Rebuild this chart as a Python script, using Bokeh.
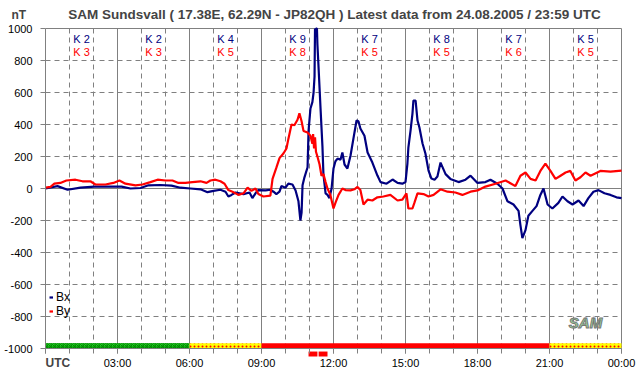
from bokeh.plotting import figure
from bokeh.models import (Range1d, FixedTicker, Grid, Label, Legend, LegendItem,
                          ColumnDataSource)
from bokeh.core.properties import value
from bokeh.embed import file_html
from bokeh.resources import INLINE

# ---------------- data ----------------
bx_hours = [0.0, 0.5, 0.92, 1.46, 2.04, 2.71, 3.17, 3.54, 3.96, 4.29, 4.79, 5.25, 5.62, 6.04, 6.46,
            6.75, 7.0, 7.29, 7.5, 7.62, 7.75, 7.92, 8.25, 8.5, 8.62, 8.75, 8.87, 9.17, 9.37, 9.5,
            9.62, 9.75, 9.83, 10.0, 10.12, 10.29, 10.42, 10.54, 10.62, 10.67, 10.71, 10.79, 10.92,
            10.96, 11.04, 11.12, 11.17, 11.21, 11.23, 11.25, 11.27, 11.29, 11.31, 11.33, 11.37,
            11.46, 11.54, 11.58, 11.67, 11.75, 11.83, 11.92, 12.0, 12.08, 12.17, 12.29, 12.37,
            12.46, 12.58, 12.71, 12.83, 12.96, 13.04, 13.12, 13.29, 13.42, 13.62, 13.83, 13.96,
            14.21, 14.46, 14.67, 14.87, 15.0, 15.08, 15.12, 15.21, 15.29, 15.33, 15.42, 15.5,
            15.58, 15.71, 15.83, 15.96, 16.08, 16.21, 16.33, 16.46, 16.67, 16.87, 17.21, 17.5,
            17.71, 18.0, 18.33, 18.54, 18.83, 19.04, 19.25, 19.5, 19.71, 19.79, 19.87, 20.0,
            20.12, 20.29, 20.46, 20.62, 20.75, 20.92, 21.12, 21.37, 21.54, 21.75, 21.96, 22.21,
            22.42, 22.62, 22.83, 23.04, 23.29, 23.54, 23.79, 24.0]
bx_nt = [0, 15, -8, 5, 12, 12, 12, 0, 3, 20, 22, 18, 5, 0, -5,
         -23, -15, -8, -20, -50, -40, -25, -35, -25, -60, -30, -10, -12, -8, -20,
         -35, -20, 15, 5, 30, 25, -12, -80, -200, -150, 20, 70, 133,
         360, 500, 540, 600, 700, 1100, 950, 1100, 1000, 1100, 900, 780,
         500, 260, 90, -30, -40, -60, 0, 125, 170, 187, 180, 225,
         150, 125, 206, 312, 425, 420, 375, 330, 225, 162, 81, 40,
         30, 56, 35, 30, 40, 156, 256, 362, 468, 550, 550, 425,
         381, 281, 219, 112, 62, 55, 75, 162, 90, 60, 40, 55,
         80, 35, 40, 55, 30, 0, -80, -100, -140, -230, -310, -260,
         -170, -140, -110, -40, 0, -100, -125, -90, -50, -80, -100, -75,
         -110, -60, -20, -10, -30, -40, -55, -60]

by_hours = [0.0, 0.21, 0.37, 0.62, 0.87, 1.25, 1.54, 1.87, 2.08, 2.5, 2.83, 3.08, 3.33, 3.75, 4.04,
            4.37, 4.67, 5.0, 5.29, 5.54, 5.83, 6.12, 6.46, 6.71, 6.87, 7.08, 7.29, 7.46, 7.62,
            7.79, 8.04, 8.25, 8.42, 8.58, 8.75, 8.87, 9.08, 9.37, 9.46, 9.62, 9.75, 9.92, 10.04,
            10.12, 10.25, 10.37, 10.5, 10.58, 10.67, 10.75, 10.92, 11.04, 11.12, 11.15, 11.19,
            11.23, 11.27, 11.33, 11.42, 11.5, 11.58, 11.67, 11.75, 11.87, 12.0, 12.08, 12.21,
            12.37, 12.5, 12.71, 12.87, 13.0, 13.12, 13.25, 13.42, 13.62, 13.83, 14.08, 14.37,
            14.67, 14.87, 15.04, 15.12, 15.29, 15.37, 15.5, 15.75, 15.96, 16.17, 16.46, 16.75,
            17.08, 17.37, 17.71, 18.0, 18.33, 18.75, 19.17, 19.58, 19.79, 20.0, 20.21, 20.42,
            20.62, 20.83, 21.04, 21.25, 21.46, 21.67, 21.87, 22.08, 22.29, 22.5, 22.71, 23.12,
            23.54, 24.0]
by_nt = [5, 10, 30, 35, 50, 55, 45, 45, 25, 25, 35, 50, 30, 20, 25,
         40, 55, 50, 50, 35, 35, 40, 45, 35, 50, 55, 45, 30, -10,
         -20, -40, -30, 5, -15, 0, -35, -50, -45, 60, 130, 190, 220, 250,
         310, 400, 395, 430, 470, 420, 360, 350, 330, 280, 340, 250,
         320, 230, 200, 150, 80, 90, 40, 0, -40, -125, -90, -40,
         0, -10, -12, -5, 10, -10, -100, -70, -75, -55, -50, -40,
         -75, -70, -30, -125, -125, -90, -30, -35, -50, -40, -5, -20,
         -25, -40, -20, -12, 12, 30, 50, 15, 80, 100, 60, 50,
         110, 155, 110, 60, 80, 100, 110, 50, 70, 100, 80, 110,
         105, 112]

k_period_mid = [1.5, 4.5, 7.5, 10.5, 13.5, 16.5, 19.5, 22.5]
k_bx = [2, 2, 4, 9, 7, 8, 7, 5]
k_by = [3, 3, 5, 8, 5, 5, 6, 5]

status_start = [0, 6, 9, 21]
status_end = [6, 9, 21, 24]
status_color = ["#22cc22", "#ffff00", "#ff0000", "#ffff00"]
status_hatch = ["criss_cross", "dot", " ", "dot"]
status_hatch_color = ["#008800", "#ff0000", "#ff0000", "#ff0000"]

alert_start = [10.96, 11.38]
alert_end = [11.33, 11.75]

x_major_hours = [0, 3, 6, 9, 12, 15, 18, 21, 24]
x_major_labels = ["", "03:00", "06:00", "09:00", "12:00", "15:00", "18:00", "21:00", "00:00"]
y_ticks = [-1000, -800, -600, -400, -200, 0, 200, 400, 600, 800, 1000]

# ---------------- styling ----------------
FONT = "Liberation Sans"
BX_COLOR = "#000080"
BY_COLOR = "#ff0000"
GRID = "#808080"

# the frame fills the whole canvas; axes sit at fixed data locations inside it
X_PAD_L, X_PAD_R = 45 / 24, 21 / 24
Y_PAD = 28 / 0.16
p = figure(width=642, height=376, title=None,
           x_range=Range1d(0 - X_PAD_L, 24 + X_PAD_R),
           y_range=Range1d(-1000 - Y_PAD, 1000 + Y_PAD),
           output_backend="svg", toolbar_location=None,
           min_border_left=0, min_border_right=0, min_border_top=0, min_border_bottom=0)
p.outline_line_color = None
p.background_fill_color = "white"
p.border_fill_color = "white"
p.xgrid.visible = False
p.ygrid.visible = False

xa = p.xaxis[0]
xa.fixed_location = -1000
xa.bounds = (0, 24)
xa.ticker = FixedTicker(ticks=x_major_hours, minor_ticks=list(range(25)))
xa.major_label_overrides = {h: lab for h, lab in zip(x_major_hours, x_major_labels)}
xa.axis_line_color = GRID
xa.major_tick_line_color = GRID
xa.minor_tick_line_color = GRID
xa.major_tick_in = 0
xa.major_tick_out = 5
xa.minor_tick_in = 0
xa.minor_tick_out = 5
xa.major_label_text_font = FONT
xa.major_label_text_font_size = "11px"
xa.major_label_text_color = "black"
xa.major_label_standoff = 3

ya = p.yaxis[0]
ya.fixed_location = 0
ya.ticker = FixedTicker(ticks=y_ticks)
ya.bounds = (-1000, 1000)
ya.major_label_overrides = {v: str(v) for v in y_ticks}
ya.axis_line_color = GRID
ya.major_tick_line_color = GRID
ya.minor_tick_line_color = None
ya.major_tick_in = 0
ya.major_tick_out = 5
ya.major_label_text_font = FONT
ya.major_label_text_font_size = "11px"
ya.major_label_text_color = "black"
ya.major_label_standoff = 8

hour_dashed = [h for h in range(1, 24) if h % 3 != 0]
p.add_layout(Grid(dimension=0, ticker=FixedTicker(ticks=hour_dashed), grid_line_color=GRID,
                  grid_line_dash="5 4", cross_bounds=(-1000, 1000)))
p.add_layout(Grid(dimension=0, ticker=FixedTicker(ticks=[3, 6, 9, 12, 15, 18, 21, 24]),
                  grid_line_color=GRID, cross_bounds=(-1000, 1000)))
p.add_layout(Grid(dimension=1, ticker=FixedTicker(ticks=[v for v in y_ticks if v not in (-1000, 0, 1000)]),
                  grid_line_color=GRID, grid_line_dash="5 4", cross_bounds=(0, 24)))
p.add_layout(Grid(dimension=1, ticker=FixedTicker(ticks=[0, 1000]), grid_line_color=GRID,
                  cross_bounds=(0, 24)))

# status bar
status_src = ColumnDataSource(dict(left=status_start, right=status_end, color=status_color,
                                   hatch=status_hatch, hcolor=status_hatch_color))
p.quad(left="left", right="right", bottom=-1000, top=-967, source=status_src,
       fill_color="color", line_color=None, hatch_pattern="hatch", hatch_color="hcolor",
       hatch_scale=4, hatch_weight=1)
p.quad(left=alert_start, right=alert_end, bottom=-1050, top=-1019, fill_color="#ff0000",
       line_color=None)

# series (clipped to the +-1000 window like the original)
bx_r = p.line(bx_hours, [min(v, 1000) for v in bx_nt], line_color=BX_COLOR, line_width=2.2)
by_r = p.line(by_hours, by_nt, line_color=BY_COLOR, line_width=2.2)

# K indices
p.text(x=k_period_mid, y=[937] * len(k_bx), text=["K %d" % k for k in k_bx],
       text_color=BX_COLOR, text_font=value(FONT), text_font_size="11px",
       text_align="center", text_baseline="middle")
p.text(x=k_period_mid, y=[856] * len(k_by), text=["K %d" % k for k in k_by],
       text_color=BY_COLOR, text_font=value(FONT), text_font_size="11px",
       text_align="center", text_baseline="middle")

# legend
legend = Legend(items=[LegendItem(label="Bx", renderers=[bx_r]), LegendItem(label="By", renderers=[by_r])],
                location=(49, 58), padding=0, margin=0, spacing=0, glyph_width=4, glyph_height=12,
                label_height=12, label_width=24, label_standoff=3, label_text_font=FONT,
                label_text_font_size="12px", label_text_color="black",
                background_fill_alpha=0, border_line_alpha=0)
p.add_layout(legend)

# texts
p.add_layout(Label(x=334, y=362, x_units="screen", y_units="screen",
                   text="SAM Sundsvall ( 17.38E, 62.29N - JP82QH ) Latest data from 24.08.2005 / 23:59 UTC",
                   text_font=FONT, text_font_style="bold", text_font_size="13.5px",
                   text_align="center", text_baseline="middle"))
p.add_layout(Label(x=11, y=362, x_units="screen", y_units="screen", text="nT",
                   text_font=FONT, text_font_style="bold", text_font_size="12px",
                   text_align="left", text_baseline="middle"))
p.add_layout(Label(x=45, y=14, x_units="screen", y_units="screen", text="UTC",
                   text_font=FONT, text_font_style="bold", text_font_size="12px",
                   text_align="left", text_baseline="middle"))
p.add_layout(Label(x=585, y=54, x_units="screen", y_units="screen", text="SAM",
                   text_font=FONT, text_font_style="bold italic", text_font_size="15px",
                   text_color="#9ad89a", text_outline_color="#777777",
                   text_align="center", text_baseline="middle"))

open("out.html", "w").write(file_html(p, INLINE))
